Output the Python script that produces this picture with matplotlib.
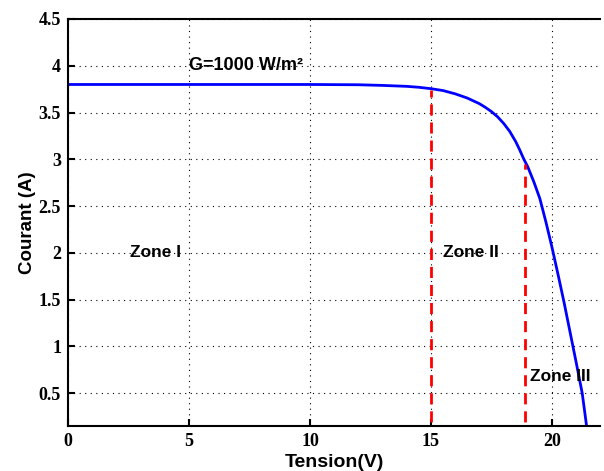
import matplotlib
matplotlib.use('Agg')
import matplotlib.pyplot as plt

# I-V curve
tension = [0, 5, 10, 12, 13, 14, 14.5, 15, 15.5, 16, 16.5, 17, 17.25, 17.5,
           17.75, 18, 18.25, 18.5, 18.65, 18.84, 19, 19.25, 19.5, 19.75, 20,
           20.25, 20.5, 20.75, 21, 21.25, 21.43]
courant = [3.80, 3.80, 3.80, 3.797, 3.79, 3.78, 3.77, 3.755, 3.735, 3.70,
           3.655, 3.595, 3.555, 3.51, 3.455, 3.385, 3.30, 3.19, 3.11, 3.0,
           2.92, 2.76, 2.58, 2.33, 2.06, 1.77, 1.47, 1.15, 0.83, 0.5, 0.15]

# zone limits (red dashed lines): x position and height
zone_x = [15, 18.9]
zone_top = [3.74, 2.95]

x_ticks = [0, 5, 10, 15, 20]
y_ticks = [0.5, 1, 1.5, 2, 2.5, 3, 3.5, 4, 4.5]

fig = plt.figure(figsize=(6.04, 4.71), dpi=100)
ax = fig.add_axes([0.1126, 0.0955, 0.8814, 0.8642])

ax.plot(tension, courant, color='#0000ff', lw=2)
for x, top in zip(zone_x, zone_top):
    ax.plot([x, x], [0, top], color='#ff0000', lw=2, ls=(0, (4, 2.5)))

sans = 'Liberation Sans'
ax.text(5, 4.0, 'G=1000 W/m²', fontsize=13, family=sans, weight='bold', va='center')
ax.text(2.55, 2.0, 'Zone I', fontsize=12.5, family=sans, weight='bold', va='center')
ax.text(15.5, 2.0, 'Zone II', fontsize=12.5, family=sans, weight='bold', va='center')
ax.text(19.1, 0.68, 'Zone III', fontsize=12.5, family=sans, weight='bold', va='center')

ax.set_xlim(0, 22)
ax.set_ylim(0.15, 4.5)
ax.set_xticks(x_ticks)
ax.set_yticks(y_ticks)
ax.set_xticklabels([str(v) for v in x_ticks], family='Liberation Serif',
                   fontweight='bold', fontsize=13)
ax.set_yticklabels([f'{v:g}' for v in y_ticks], family='Liberation Serif',
                   fontweight='bold', fontsize=13)
ax.tick_params(direction='in', length=5, width=1.5, pad=5)
ax.grid(True, color='black', ls=(0, (1, 4)), lw=0.8)

for side in ['left', 'bottom', 'top']:
    ax.spines[side].set_linewidth(1.5)
ax.spines['right'].set_visible(False)

ax.set_xlabel('Tension(V)', fontsize=14, family=sans, weight='bold', labelpad=3)
ax.set_ylabel('Courant (A)', fontsize=13.5, family=sans, weight='bold', labelpad=2)

fig.savefig('out.png', dpi=100)
